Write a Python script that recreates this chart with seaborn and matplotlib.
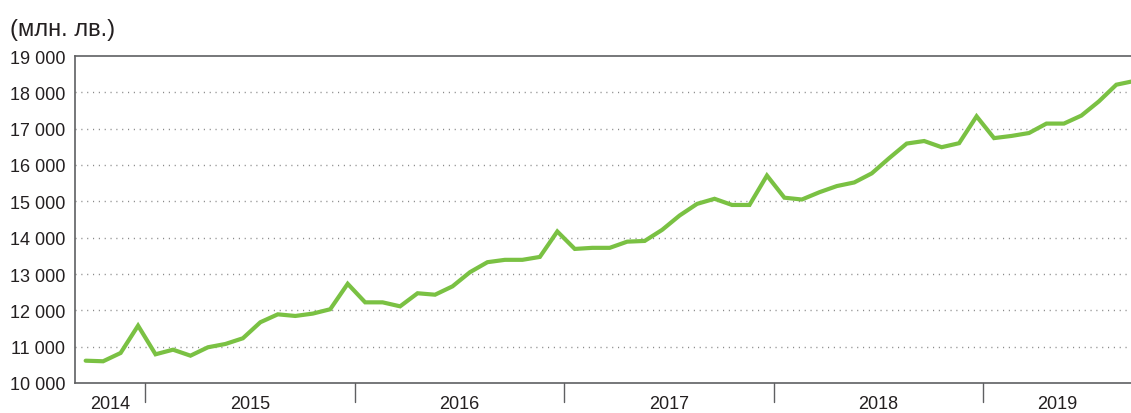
import pandas as pd
import matplotlib.pyplot as plt
import matplotlib.transforms as mtransforms
import seaborn as sns

# Monthly values, Sep 2014 - Sep 2019 (млн. лв.)
start_month = "2014-09"
values = [
    10614, 10598, 10826, 11578,
    10790, 10917, 10752, 10983, 11074, 11231, 11672, 11890, 11845, 11910, 12030, 12730,
    12220, 12220, 12110, 12470, 12430, 12660, 13050, 13325, 13390, 13390, 13470, 14170,
    13690, 13720, 13720, 13890, 13910, 14215, 14610, 14930, 15070, 14900, 14900, 15710,
    15100, 15050, 15250, 15420, 15520, 15770, 16190, 16590, 16660, 16490, 16600, 17340,
    16740, 16800, 16880, 17140, 17140, 17360, 17750, 18210, 18310,
]
year_labels = ["2014", "2015", "2016", "2017", "2018", "2019"]
y_ticks = [10000, 11000, 12000, 13000, 14000, 15000, 16000, 17000, 18000, 19000]
unit_label = "(млн. лв.)"

LINE_COLOR = "#7AC143"
TEXT_COLOR = "#231F20"
AXIS_COLOR = "#5f6062"

dates = pd.date_range(start_month, periods=len(values), freq="MS")
df = pd.DataFrame({"date": dates, "value": values})
first = dates[0]
df["month_idx"] = (df["date"].dt.year - first.year) * 12 + (df["date"].dt.month - first.month)
df["x"] = df["month_idx"] + 0.61

sns.set_style("white")
plt.rcParams["font.family"] = ["Liberation Sans", "DejaVu Sans"]

fig = plt.figure(figsize=(11.31, 4.14), dpi=100)
ax = fig.add_axes([75 / 1131, 1 - 384 / 414, 1 - 75 / 1131, (384 - 57) / 414])

sns.lineplot(data=df, x="x", y="value", ax=ax, color=LINE_COLOR, linewidth=3.0,
             solid_joinstyle="miter")

x_max = 60.45
ax.set_xlim(0, x_max)
ax.set_ylim(10000, 19000)

# y axis
ax.set_yticks(y_ticks)
ax.set_yticklabels([f"{v:,}".replace(",", " ") for v in y_ticks], fontsize=13, color=TEXT_COLOR)
ax.tick_params(axis="y", direction="out", length=5, width=1, color=AXIS_COLOR, pad=2)
for v in y_ticks[1:-1]:
    ax.axhline(v, color="#8a8a8a", linewidth=1.0, linestyle=(0, (0.8, 3.4)), zorder=0)

# x axis: month ticks, longer year boundary ticks
month_ticks = list(range(0, 61))
ax.set_xticks(month_ticks)
ax.set_xticklabels([])
ax.tick_params(axis="x", direction="out", length=5.5, width=1, color=AXIS_COLOR)

year_starts = [0] + [i for i, d in enumerate(dates) if d.month == 1]
trans = mtransforms.blended_transform_factory(ax.transData, ax.transAxes)
for b in year_starts[1:]:
    ax.plot([b, b], [0, -19 / 327], transform=trans, color=AXIS_COLOR, linewidth=1,
            clip_on=False)
bounds = year_starts + [x_max]
for lab, a, b in zip(year_labels, bounds[:-1], bounds[1:]):
    ax.text((a + b) / 2, -21 / 327, lab, transform=trans, ha="center", va="center",
            fontsize=13, color=TEXT_COLOR)

for side in ["left", "bottom", "top"]:
    ax.spines[side].set_color(AXIS_COLOR)
    ax.spines[side].set_linewidth(1.2)
ax.spines["right"].set_visible(False)
ax.set_xlabel("")
ax.set_ylabel("")

fig.text(10 / 1131, 1 - 30 / 414, unit_label, ha="left", va="center", fontsize=17,
         color=TEXT_COLOR)

fig.savefig("out.png", dpi=100)
plt.close(fig)
